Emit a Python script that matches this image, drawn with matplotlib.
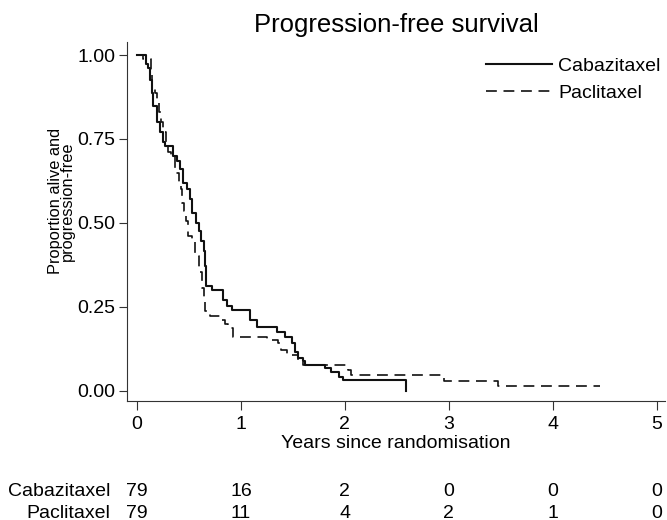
import numpy as np
import matplotlib
matplotlib.use('Agg')
import matplotlib.pyplot as plt
import matplotlib.transforms as mtransforms

plt.rcParams['font.family'] = ['Liberation Sans', 'DejaVu Sans']

# Kaplan-Meier steps (time in years, proportion)
t_cab = [0, 0.09, 0.11, 0.125, 0.14, 0.157, 0.19, 0.22, 0.25, 0.27, 0.35, 0.38,
         0.41, 0.445, 0.48, 0.51, 0.53, 0.57, 0.60, 0.62, 0.64, 0.65, 0.66, 0.665,
         0.724, 0.83, 0.87, 0.91, 1.087, 1.15, 1.35, 1.42, 1.49, 1.52, 1.55, 1.60,
         1.615, 1.81, 1.87, 1.94, 1.98, 2.59]
s_cab = [1.0, 0.975, 0.962, 0.927, 0.888, 0.848, 0.80, 0.77, 0.74, 0.728, 0.70, 0.684,
         0.66, 0.62, 0.60, 0.57, 0.53, 0.50, 0.475, 0.445, 0.415, 0.37, 0.335, 0.313,
         0.30, 0.27, 0.253, 0.24, 0.211, 0.191, 0.176, 0.161, 0.141, 0.116, 0.096, 0.087,
         0.076, 0.066, 0.057, 0.042, 0.032, 0.0]

t_pac = [0, 0.055, 0.13, 0.14, 0.17, 0.19, 0.21, 0.235, 0.25, 0.28, 0.30, 0.33,
         0.37, 0.40, 0.42, 0.43, 0.45, 0.47, 0.49, 0.53, 0.56, 0.60, 0.63, 0.645,
         0.654, 0.70, 0.80, 0.85, 0.875, 0.926, 1.25, 1.36, 1.39, 1.44, 1.55, 1.60,
         2.03, 2.06, 2.95, 3.47, 4.45]
s_pac = [1.0, 0.987, 0.95, 0.898, 0.886, 0.858, 0.83, 0.80, 0.77, 0.735, 0.71, 0.70,
         0.65, 0.62, 0.60, 0.56, 0.535, 0.505, 0.46, 0.445, 0.40, 0.355, 0.305, 0.27,
         0.236, 0.223, 0.21, 0.20, 0.186, 0.161, 0.151, 0.141, 0.121, 0.106, 0.091, 0.076,
         0.062, 0.046, 0.029, 0.014, 0.014]

# numbers at risk
risk_times = [0, 1, 2, 3, 4, 5]
risk_cab = [79, 16, 2, 0, 0, 0]
risk_pac = [79, 11, 4, 2, 1, 0]

fig = plt.figure(figsize=(6.67, 5.2), dpi=100)
ax = fig.add_axes([0.19, 0.2288, 0.807, 0.691])

ax.step(t_cab, s_cab, where='post', color='#111111', lw=1.5, label='Cabazitaxel')
ax.step(t_pac, s_pac, where='post', color='#111111', lw=1.2,
        linestyle=(0, (6.5, 4)), label='Paclitaxel')

ax.set_xlim(-0.099, 5.08)
ax.set_ylim(-0.031, 1.04)
ax.set_xticks(risk_times)
ax.set_yticks([0, 0.25, 0.5, 0.75, 1.0])
ax.set_yticklabels(['0.00', '0.25', '0.50', '0.75', '1.00'])
for side in ['top', 'right']:
    ax.spines[side].set_visible(False)
for side in ['left', 'bottom']:
    ax.spines[side].set_linewidth(0.8)
    ax.spines[side].set_color('#333333')
ax.tick_params(axis='y', length=6, width=0.8, color='#333333', pad=2, labelsize=14)
ax.tick_params(axis='x', length=6.5, width=0.8, color='#333333', pad=4.5, labelsize=14)

ax.set_xlabel('Years since randomisation', fontsize=14, labelpad=1.5)
fig.text(0.092, 0.613, 'Proportion alive and\nprogression-free', rotation=90,
         ha='center', va='center', fontsize=11.8, linespacing=0.8)
fig.text(0.594, 0.951, 'Progression-free survival', ha='center', va='center', fontsize=18.5)

ax.legend(loc='upper left', bbox_to_anchor=(486 / 667, 1 - 57 / 520),
          bbox_transform=fig.transFigure, frameon=False, fontsize=14,
          handlelength=3.4, handletextpad=0.3, labelspacing=0.5,
          borderpad=0, borderaxespad=0)

# risk table below the axis
trans = mtransforms.blended_transform_factory(ax.transData, fig.transFigure)
fig.text(110 / 667, 1 - 492 / 520, 'Cabazitaxel', ha='right', va='center', fontsize=14)
fig.text(110 / 667, 1 - 513 / 520, 'Paclitaxel', ha='right', va='center', fontsize=14)
for t, a, b in zip(risk_times, risk_cab, risk_pac):
    ax.text(t, 1 - 492 / 520, str(a), transform=trans, ha='center', va='center', fontsize=14)
    ax.text(t, 1 - 513 / 520, str(b), transform=trans, ha='center', va='center', fontsize=14)

fig.savefig('out.png', dpi=100)
